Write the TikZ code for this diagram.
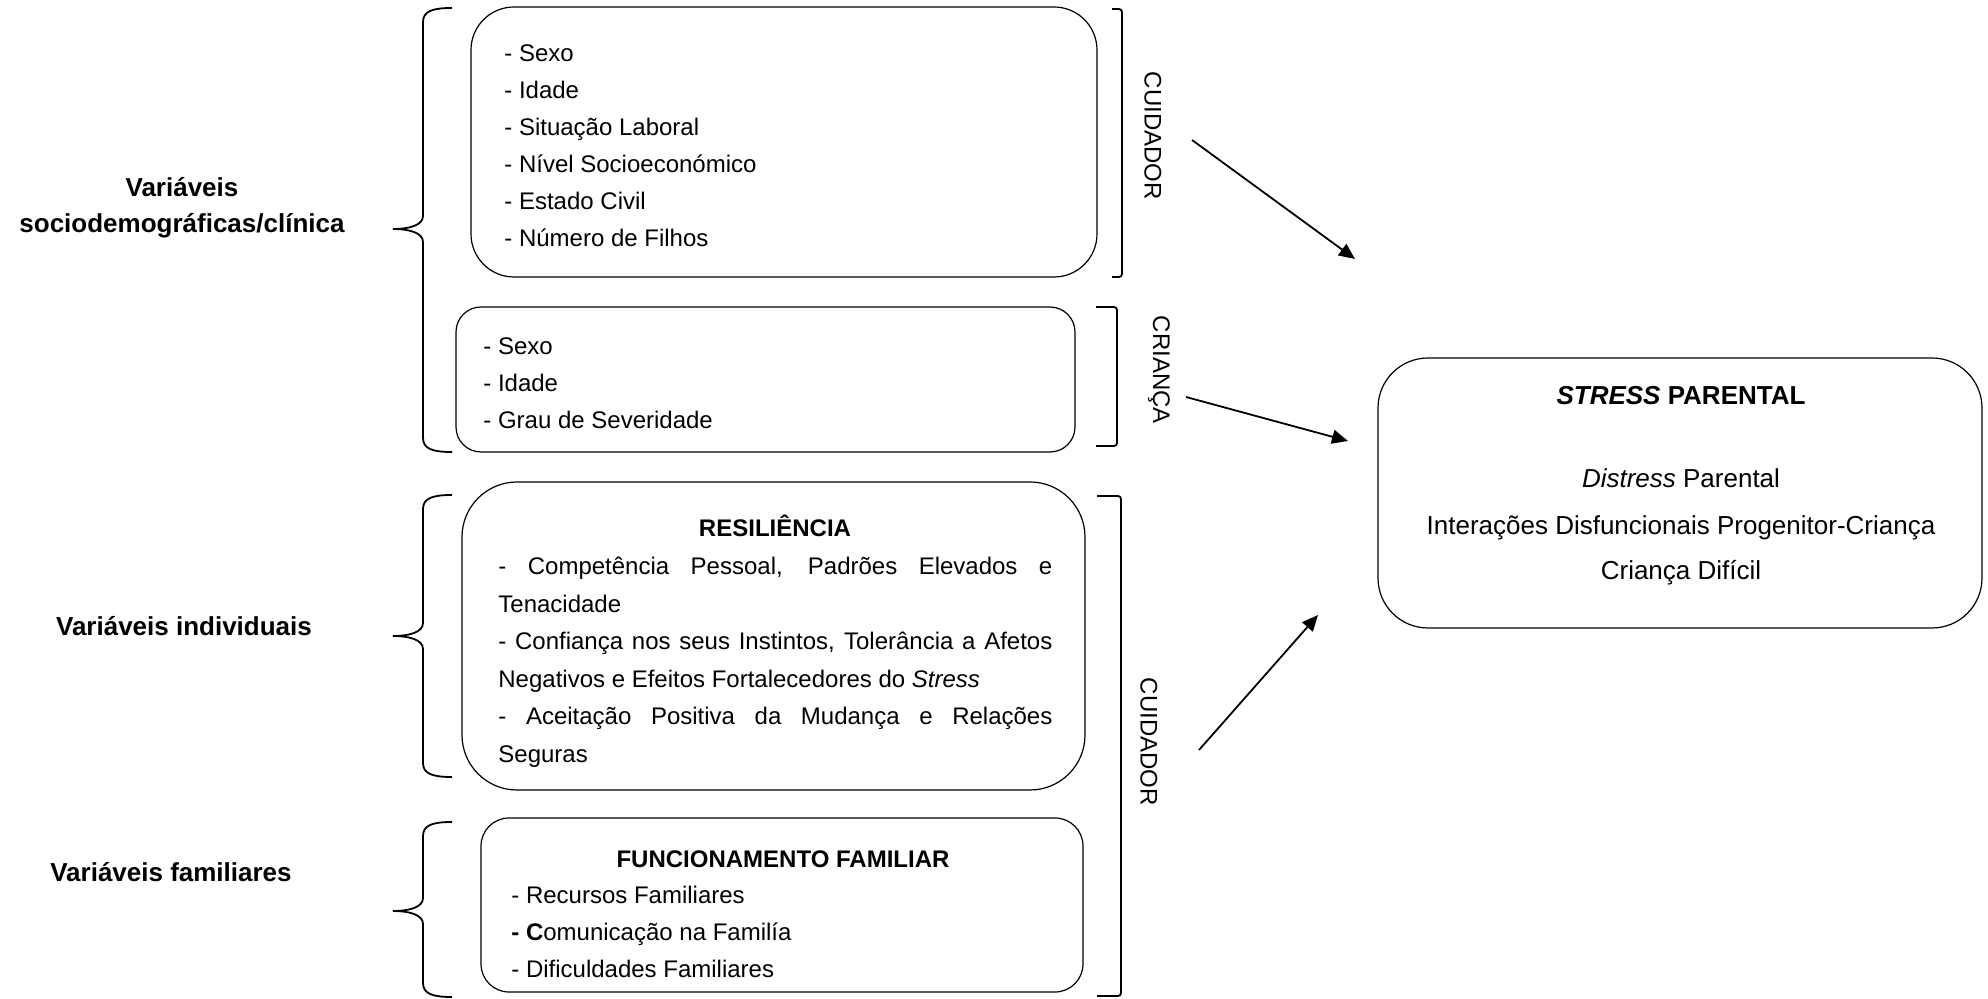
\documentclass[tikz,border=0pt]{standalone}
\usepackage{fontspec}
\setmainfont{Liberation Sans}
\usetikzlibrary{arrows.meta}
\begin{document}
\begin{tikzpicture}[x=0.5pt,y=-0.5pt,
  rbox/.style={draw, line width=0.6pt, rounded corners=#1, inner sep=0pt},
  lbl/.style={inner sep=0pt, anchor=base, font=\fontsize{13}{18}\selectfont\bfseries},
  hdr/.style={inner sep=0pt, anchor=base, font=\fontsize{12}{14}\selectfont\bfseries},
  txt/.style={inner sep=0pt, anchor=base west},
  brk/.style={line width=0.9pt},
  arr/.style={line width=0.9pt, -{Triangle[length=8pt,width=7pt]}},
  side/.style={inner sep=0pt, rotate=-90, font=\fontsize{12}{14}\selectfont},
]
\useasboundingbox (0,0) rectangle (1988,999);

% left labels
\node[lbl] (l1a) at (182,197) {Variáveis};
\node[lbl] (l1b) at (182,233) {sociodemográficas/clínica};
\node[lbl] (l2) at (184,636) {Variáveis individuais};
\node[lbl] (l3) at (171,881) {Variáveis familiares};

% left braces
\draw[brk] (452,8) .. controls (433,8) and (423,11) .. (423,22) -- (423,216)
  .. controls (423,225) and (410,229) .. (393,229)
  .. controls (410,229) and (423,233) .. (423,242) -- (423,438)
  .. controls (423,449) and (433,452) .. (452,452);
\draw[brk] (452,495) .. controls (433,495) and (423,498) .. (423,509) -- (423,623)
  .. controls (423,632) and (410,636) .. (393,636)
  .. controls (410,636) and (423,640) .. (423,649) -- (423,763)
  .. controls (423,774) and (433,777) .. (452,777);
\draw[brk] (452,822) .. controls (433,822) and (423,825) .. (423,836) -- (423,898)
  .. controls (423,907) and (410,911) .. (393,911)
  .. controls (410,911) and (423,915) .. (423,924) -- (423,983)
  .. controls (423,994) and (433,997) .. (452,997);

% boxes
\node[rbox=21.5pt, minimum width=313pt, minimum height=135pt] (b1) at (784,142) {};
\node[rbox=12.5pt, minimum width=309.5pt, minimum height=72.5pt] (b2) at (765.5,379.5) {};
\node[rbox=27.5pt, minimum width=311.5pt, minimum height=154pt] (b3) at (773.5,636) {};
\node[rbox=14pt, minimum width=301pt, minimum height=87pt] (b4) at (782,905) {};
\node[rbox=25pt, minimum width=302pt, minimum height=135pt] (b5) at (1680,493) {};

% box texts
\node[txt] (t1) at (504,62) {\parbox[t]{300pt}{\fontsize{12}{18.5}\selectfont
  - Sexo\\- Idade\\- Situação Laboral\\- Nível Socioeconómico\\- Estado Civil\\- Número de Filhos}};
\node[txt] (t2) at (483,355) {\parbox[t]{300pt}{\fontsize{12}{18.5}\selectfont
  - Sexo\\- Idade\\- Grau de Severidade}};
\node[hdr] (h3) at (775,537) {RESILIÊNCIA};
\node[txt] (t3) at (498,575) {\parbox[t]{277pt}{\fontsize{12}{18.75}\selectfont
  \makebox[277pt][s]{- Competência Pessoal, Padrões Elevados e}\\
  Tenacidade\\
  \makebox[277pt][s]{- Confiança nos seus Instintos, Tolerância a Afetos}\\
  Negativos e Efeitos Fortalecedores do \textit{Stress}\\
  \makebox[277pt][s]{- Aceitação Positiva da Mudança e Relações}\\
  Seguras}};
\node[hdr] (h4) at (783,868) {FUNCIONAMENTO FAMILIAR};
\node[txt] (t4) at (511,903) {\parbox[t]{290pt}{\fontsize{12}{18.5}\selectfont
  - Recursos Familiares\\\textbf{- C}omunicação na Familía\\- Dificuldades Familiares}};

% stress box text
\node[inner sep=0pt, anchor=base, font=\fontsize{13}{18}\selectfont\bfseries] (s1) at (1681,405) {\textit{STRESS} PARENTAL};
\node[inner sep=0pt, anchor=base, font=\fontsize{13}{18}\selectfont] (s2) at (1681,488) {\textit{Distress} Parental};
\node[inner sep=0pt, anchor=base, font=\fontsize{13}{18}\selectfont] (s3) at (1681,535) {Interações Disfuncionais Progenitor-Criança};
\node[inner sep=0pt, anchor=base, font=\fontsize{13}{18}\selectfont] (s4) at (1681,580) {Criança Difícil};

% right brackets
\draw[brk, rounded corners=1.5pt] (1112,9) -- (1122,9) -- (1122,277) -- (1112,277);
\draw[brk, rounded corners=1.5pt] (1096,307) -- (1117,307) -- (1117,446) -- (1096,446);
\draw[brk, rounded corners=1.5pt] (1097,496) -- (1121,496) -- (1121,996) -- (1097,996);

% side labels
\node[side] (c1) at (1153,136) {CUIDADOR};
\node[side] (c2) at (1159,370) {CRIANÇA};
\node[side] (c3) at (1149,742) {CUIDADOR};

% arrows
\coordinate (a1s) at (1192,140);
\coordinate (a1e) at (1355,259);
\coordinate (a2s) at (1186,397);
\coordinate (a2e) at (1348,441);
\coordinate (a3s) at (1199,750);
\coordinate (a3e) at (1318,615);
\draw[arr] (a1s) -- (a1e);
\draw[arr] (a2s) -- (a2e);
\draw[arr] (a3s) -- (a3e);
\end{tikzpicture}
\end{document}
